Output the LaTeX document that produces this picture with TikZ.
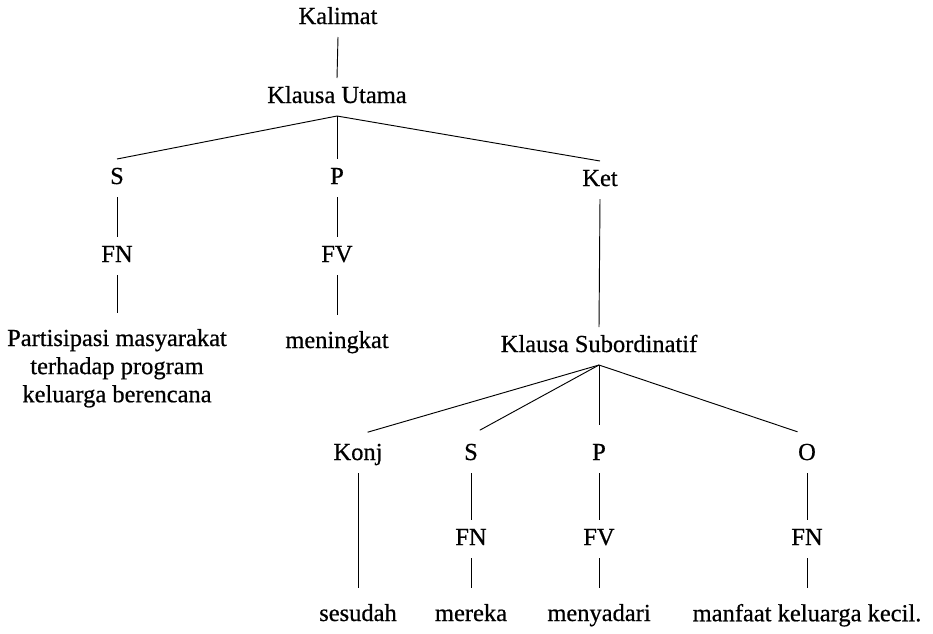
\documentclass[tikz,border=0pt]{standalone}
\usepackage{fontspec}
\setmainfont[FakeBold=0.6]{Liberation Serif}
\begin{document}
\begin{tikzpicture}[x=0.03cm,y=-0.03cm,
  lbl/.style={inner sep=0pt, outer sep=0pt, outer ysep=0.24cm, text height=0.51cm, text depth=0.15cm, font=\fontsize{20.9pt}{24pt}\selectfont},
  leaf/.style={inner sep=0pt, outer sep=0pt, outer ysep=0.48cm, anchor=north, align=center, font=\fontsize{20.9pt}{24pt}\selectfont},
  edge/.style={line width=0.8pt},
  low/.style={edge, shorten >=0.3cm}]
\useasboundingbox (0,0) rectangle (933,633);
\node[lbl] (kal) at (338,18) {Kalimat};
\node[lbl] (ku) at (337,97) {Klausa Utama};
\node[lbl] (s1) at (117,178) {S};
\node[lbl] (p1) at (337,178) {P};
\node[lbl] (ket) at (600,180) {Ket};
\node[lbl] (fn1) at (117,256) {FN};
\node[lbl] (fv1) at (337,256) {FV};
\node[leaf] (w1) at (117,313) {Partisipasi masyarakat\\terhadap program\\keluarga berencana};
\node[leaf] (w2) at (337,315) {meningkat};
\node[lbl] (ks) at (599,346) {Klausa Subordinatif};
\node[lbl] (konj) at (358,454) {Konj};
\node[lbl] (s2) at (471,454) {S};
\node[lbl] (p2) at (599,454) {P};
\node[lbl] (o) at (807,454) {O};
\node[lbl] (fn2) at (471,539) {FN};
\node[lbl] (fv2) at (599,539) {FV};
\node[lbl] (fn3) at (807,539) {FN};
\node[leaf] (w3) at (358,588) {sesudah};
\node[leaf] (w4) at (471,588) {mereka};
\node[leaf] (w5) at (599,588) {menyadari};
\node[leaf] (w6) at (807,588) {manfaat keluarga kecil.};
\draw[edge] (kal.south) -- (ku.north);
\draw[edge] (ku.south) -- (s1.north);
\draw[edge] (ku.south) -- (p1.north);
\draw[edge] (ku.south) -- (ket.north);
\draw[edge] (s1.south) -- (fn1.north);
\draw[edge] (fn1.south) -- (w1.north);
\draw[edge] (p1.south) -- (fv1.north);
\draw[edge] (fv1.south) -- (w2.north);
\draw[edge] (ket.south) -- (ks.north);
\draw[low] (ks.south) -- (konj.north);
\draw[low] (ks.south) -- (s2.north);
\draw[low] (ks.south) -- (p2.north);
\draw[low] (ks.south) -- (o.north);
\draw[edge] (konj.south) -- (w3.north);
\draw[edge] (s2.south) -- (fn2.north);
\draw[edge] (fn2.south) -- (w4.north);
\draw[edge] (p2.south) -- (fv2.north);
\draw[edge] (fv2.south) -- (w5.north);
\draw[edge] (o.south) -- (fn3.north);
\draw[edge] (fn3.south) -- (w6.north);
\end{tikzpicture}
\end{document}
